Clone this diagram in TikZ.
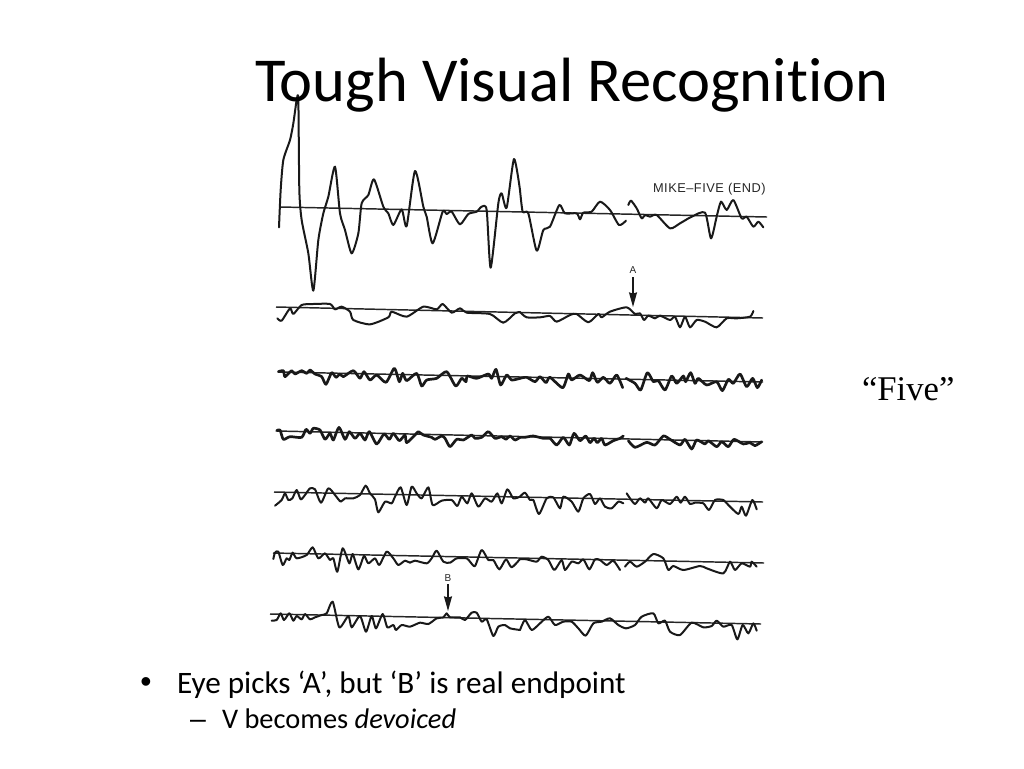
\documentclass[tikz,border=0pt]{standalone}
\usepackage{fontspec}
\setmainfont[Ligatures=NoCommon]{Carlito}
\newfontfamily\timesfont{Liberation Serif}
\newfontfamily\labelfont{Liberation Sans}
\usetikzlibrary{arrows.meta}
\tikzset{
trace/.style={line width=1.5pt,line join=round,line cap=round,black!90},
heavytrace/.style={trace,line width=2pt},
zero/.style={line width=1.1pt,black!85},
marker/.style={-{Stealth[length=11pt,width=6pt,inset=1pt]},line width=.9pt,black!90},
panelA/.style={shift={(260,90)},scale=1/3},
panelB/.style={shift={(520,90)},scale=1/3},
panelC/.style={shift={(260,350)},scale=1/3},
panelD/.style={shift={(260,530)},scale=1/3},
panelE/.style={shift={(520,350)},scale=1/3},
}
\begin{document}
\begin{tikzpicture}[x=.75pt,y=-.75pt,inner sep=0pt,outer sep=0pt]
\useasboundingbox (0,0) rectangle (1024,768);
% zero lines
\draw[zero] (280,207) -- (767,217);
\draw[zero] (276,307) -- (763,318);
\draw[zero] (278,372) -- (763,382);
\draw[zero] (277,431) -- (763,442);
\draw[zero] (274,492) -- (763,502);
\draw[zero] (273,553) -- (764,563);
\draw[zero] (270,614) -- (761,624);
% first trace
\draw[trace,panelA] plot[smooth,tension=.4] coordinates {(57,412) (62,300) (70,210) (90,150) (100,100) (110,30) (115,30) (118,300) (125,390) (145,490) (160,602) (175,450) (190,370) (205,320) (225,230) (240,370) (255,420) (275,490) (295,430) (305,340) (325,315) (342,268) (370,350) (385,370) (400,405) (425,358) (440,408) (465,243) (490,350) (500,380) (518,460) (548,365) (560,372) (575,365) (600,403) (625,372) (650,365) (665,350) (680,360) (692,533) (715,340) (725,310) (740,353) (762,207) (780,300)};
\draw[trace,panelB] plot[smooth,tension=.4] coordinates {(0,300) (8,365) (25,370) (50,482) (70,420) (90,410) (118,345) (135,370) (170,370) (180,388) (190,368) (215,365) (240,335) (270,360) (297,405) (318,392)};
\draw[trace,panelB] plot[smooth,tension=.4] coordinates {(325,345) (333,332) (350,355) (365,385) (375,375) (390,380) (410,375) (450,415) (480,400) (515,380) (555,368) (573,445) (590,380) (603,335) (620,360) (640,330) (665,385) (680,380) (700,410) (715,395) (730,412)};
% second trace
\draw[trace,panelA] plot[smooth,tension=.4] coordinates {(52,685) (65,692) (90,655) (100,672) (125,645) (160,642) (210,642) (225,658) (245,650) (270,665) (280,690) (330,703) (385,682) (395,665) (440,680) (490,650) (530,658) (548,642) (575,668) (600,655) (620,668) (690,672) (730,698) (765,670) (780,666)};
\draw[trace,panelB] plot[smooth,tension=.4] coordinates {(0,666) (20,682) (60,682) (90,678) (110,695) (150,675) (170,672) (205,697) (235,672) (245,682) (270,665) (320,652) (345,672) (360,670) (372,690) (385,677) (405,685) (420,677) (450,690) (465,680) (480,712) (495,680) (510,712) (530,690) (555,695) (590,712) (620,685) (650,685) (690,680) (700,663)};
% third trace
\draw[heavytrace,panelC] plot[smooth,tension=.4] coordinates {(55,65) (70,62) (75,80) (95,62) (105,72) (125,62) (140,70) (150,60) (165,72) (185,80) (198,103) (215,68) (228,82) (240,72) (250,80) (280,62) (300,85) (312,65) (330,90) (350,75) (378,97) (403,55) (418,95) (428,70) (440,92) (470,70) (485,108) (500,90) (530,85) (560,65) (587,108) (605,85) (618,95) (622,78) (650,85) (685,72) (695,85) (708,58) (722,105) (740,75) (755,90) (780,85)};
\draw[heavytrace,panelE] plot[smooth,tension=.4] coordinates {(0,85) (20,82) (45,95) (60,80) (78,98) (90,82) (128,113) (145,72) (155,90) (180,75) (208,92) (218,68) (232,97) (250,82) (270,100) (290,75) (308,113)};
\draw[heavytrace,panelE] plot[smooth,tension=.4] coordinates {(318,85) (345,100) (362,120) (382,68) (400,95) (415,92) (435,120) (455,78) (470,100) (490,78) (497,95) (512,68) (525,100) (535,85) (560,105) (590,95) (607,122) (625,88) (640,100) (660,72) (680,110) (698,85) (712,113) (725,90)};
% fourth trace
\draw[heavytrace,panelC] plot[smooth,tension=.4] coordinates {(50,242) (60,240) (70,268) (90,260) (125,262) (138,238) (150,250) (160,235) (180,240) (195,268) (210,250) (220,270) (237,232) (255,268) (268,245) (285,265) (300,250) (315,270) (328,245) (350,282) (372,252) (388,268) (400,250) (418,272) (435,255) (440,278) (465,255) (475,245) (490,255) (515,262) (525,268) (545,258) (555,265) (570,290) (590,268) (610,270) (635,255) (645,265) (665,262) (685,245) (705,265) (725,260) (738,268) (750,258) (765,270) (780,262)};
\draw[heavytrace,panelE] plot[smooth,tension=.4] coordinates {(0,262) (15,262) (40,258) (70,265) (90,265) (110,285) (130,262) (148,285) (162,250) (180,272) (197,258) (210,278) (222,265) (232,278) (245,265) (255,285) (280,272) (300,265) (310,258)};
\draw[heavytrace,panelE] plot[smooth,tension=.4] coordinates {(325,272) (345,292) (380,277) (405,285) (430,258) (450,268) (480,285) (495,268) (515,297) (530,270) (555,282) (565,272) (590,290) (605,275) (625,290) (642,268) (670,282) (690,278) (705,287) (725,275)};
% fifth trace
\draw[trace,panelC] plot[smooth,tension=.4] coordinates {(45,467) (65,450) (75,430) (85,450) (97,445) (110,420) (122,448) (135,435) (150,415) (165,418) (183,458) (205,415) (225,435) (242,455) (255,445) (280,445) (300,435) (317,407) (330,430) (345,448) (355,487) (375,455) (395,460) (405,440) (422,412) (440,465) (455,410) (470,430) (485,445) (505,412) (518,465) (545,452) (575,450) (592,468) (605,440) (622,460) (635,430) (655,470) (675,445) (695,455) (712,430) (725,460) (742,418) (760,445) (780,440)};
\draw[trace,panelE] plot[smooth,tension=.4] coordinates {(0,440) (15,428) (30,450) (40,450) (57,492) (80,445) (100,442) (120,475) (130,440) (155,455) (175,485) (190,445) (210,432) (225,462) (240,445) (255,470) (275,475) (295,455) (310,460)};
\draw[trace,panelE] plot[smooth,tension=.4] coordinates {(320,430) (330,445) (345,462) (360,445) (375,458) (385,445) (410,475) (425,450) (450,462) (470,440) (482,458) (495,440) (510,462) (525,458) (550,460) (567,480) (585,450) (610,450) (625,465) (655,492) (665,470) (678,497) (697,450) (710,478)};
% sixth trace
\draw[trace,panelD] plot[smooth,tension=.4] coordinates {(40,87) (45,68) (55,65) (68,105) (80,85) (88,90) (98,68) (110,85) (140,75) (158,52) (175,85) (195,70) (210,90) (220,85) (232,125) (248,55) (268,100) (278,72) (295,118) (312,78) (325,100) (345,85) (358,105) (380,65) (400,85) (415,105) (435,92) (450,98) (465,92) (500,100) (515,85) (530,62) (550,95) (570,98) (590,85) (620,85) (630,95) (645,108) (665,60) (685,90) (700,90) (718,118) (738,88) (755,112) (780,87)};
\draw[trace,panelE] plot[smooth,tension=.4] coordinates {(0,627) (20,628) (50,635) (65,620) (85,630) (103,660) (125,630) (135,660) (155,635) (175,640) (190,628) (208,658) (225,628) (240,630) (260,645) (280,632) (300,660)};
\draw[trace,panelE] plot[smooth,tension=.4] coordinates {(315,650) (330,635) (350,650) (375,635) (400,612) (430,625) (445,660) (460,648) (490,660) (540,648) (560,655) (610,670) (630,635) (645,660) (665,640) (690,650) (695,635) (710,650)};
% seventh trace
\draw[trace,panelD] plot[smooth,tension=.4] coordinates {(35,272) (50,270) (62,250) (72,270) (88,250) (100,272) (110,258) (125,268) (135,252) (150,268) (165,262) (185,255) (200,250) (218,215) (238,292) (265,258) (275,292) (300,258) (318,305) (335,258) (348,295) (368,252) (382,292) (400,285) (408,300) (425,285) (450,290) (480,278) (505,282) (530,265) (550,262) (560,250) (570,262) (600,262) (615,270) (635,248) (650,248) (665,275) (680,268) (700,318) (715,290) (735,285) (750,295) (780,300)};
\draw[trace,panelE] plot[smooth,tension=.4] coordinates {(0,840) (15,810) (35,840) (60,820) (85,800) (105,825) (130,815) (155,815) (175,835) (197,857) (220,820) (245,815) (270,805) (295,825) (318,835) (345,825) (365,800) (400,790) (415,820) (435,812) (450,845) (480,855) (515,818) (550,832) (575,828) (590,812) (610,830) (635,825) (652,868) (668,825) (685,850) (700,820) (710,842)};
% labels and markers
\node[anchor=base west,font=\labelfont\fontsize{9.6}{10}\selectfont,black!85] (mike) at (653,192) {\addfontfeature{LetterSpace=4}MIKE–FIVE (END)};
\node[font=\labelfont\fontsize{7.5}{8}\selectfont,black!85] (labelA) at (633,270) {A};
\node[font=\labelfont\fontsize{7.5}{8}\selectfont,black!85] (labelB) at (448,578) {B};
\coordinate (tipA) at (633,307);
\coordinate (tipB) at (448,611);
\draw[marker] (labelA.south) ++(0,4) -- (tipA);
\draw[marker] (labelB.south) ++(0,3) -- (tipB);
% text
\node[anchor=base west,font=\fontsize{46.9}{54}\selectfont] (title) at (255,101) {Tough Visual Recognition};
\node[anchor=base west,font=\timesfont\fontsize{26}{30}\selectfont] (five) at (862,400) {“Five”};
\node[anchor=base west,font=\fontsize{23.4}{27}\selectfont] (bulletA) at (177,693) {Eye picks ‘A’, but ‘B’ is real endpoint};
\node[anchor=base,font=\labelfont\fontsize{24}{27}\selectfont] (dotA) at (146,692) {•};
\node[anchor=base west,font=\fontsize{21.3}{25}\selectfont] (bulletB) at (222,728) {V becomes \textit{devoiced}};
\node[anchor=base east,font=\labelfont\fontsize{21.3}{25}\selectfont] (dashB) at (206,728) {–};
\end{tikzpicture}
\end{document}
